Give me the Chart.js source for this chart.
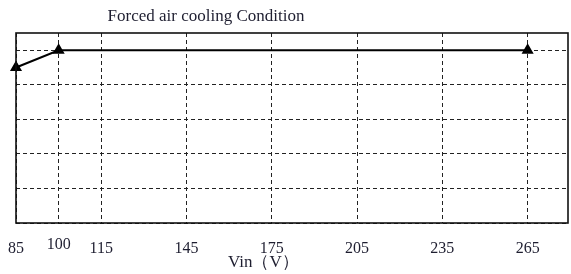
<!DOCTYPE html>
<html>
<head>
<meta charset="utf-8">
<script src="https://cdn.jsdelivr.net/npm/chart.js@4/dist/chart.umd.min.js"></script>
<style>
  html, body { margin: 0; padding: 0; background: #fff; }
  #wrap { width: 571px; height: 274px; }
</style>
</head>
<body>
<div id="wrap"><canvas id="c" width="571" height="274"></canvas></div>
<script>
// Datos
const vinValues = [85, 100, 265];
const curveValues = [4.5, 5, 5];
const xTickValues = [85, 100, 115, 145, 175, 205, 235, 265];
const yGridValues = [0, 1, 2, 3, 4, 5];
const chartTitle = 'Forced air cooling Condition';
const xAxisTitle = 'Vin（V）';

const serif = "'Liberation Serif', 'DejaVu Serif', serif";

// Marco, titulo y etiquetas dibujadas a mano
const decorPlugin = {
    id: 'decor',
    afterDraw(chart) {
        const ctx = chart.ctx;
        const area = chart.chartArea;
        const xs = chart.scales.x;
        ctx.save();
        ctx.strokeStyle = '#111';
        ctx.lineWidth = 1.6;
        ctx.strokeRect(area.left, area.top, area.right - area.left, area.bottom - area.top);

        ctx.fillStyle = '#1e1e30';
        ctx.font = '17px ' + serif;
        ctx.textAlign = 'center';
        ctx.textBaseline = 'alphabetic';
        ctx.fillText(chartTitle, 206, 21);

        ctx.font = '16px ' + serif;
        xTickValues.forEach(v => {
            const px = xs.getPixelForValue(v);
            const y = v === 100 ? 249 : 253;
            ctx.fillText(String(v), px, y);
        });
        ctx.textAlign = 'left';
        ctx.font = '17px ' + serif;
        ctx.fillText(xAxisTitle, 228, 267);
        ctx.restore();
    }
};

const ctx = document.getElementById('c').getContext('2d');
new Chart(ctx, {
    type: 'line',
    data: {
        datasets: [{
            data: vinValues.map((v, i) => ({ x: v, y: curveValues[i] })),
            borderColor: '#000',
            backgroundColor: '#000',
            borderWidth: 2,
            pointStyle: 'triangle',
            pointRadius: 5,
            pointBackgroundColor: '#000',
            pointBorderColor: '#000',
            tension: 0,
            clip: false
        }]
    },
    options: {
        responsive: false,
        animation: false,
        layout: { autoPadding: false, padding: { left: 16, right: 3, top: 33, bottom: 51 } },
        plugins: {
            legend: { display: false },
            tooltip: { enabled: false }
        },
        scales: {
            x: {
                type: 'linear',
                min: 85,
                max: 279.2,
                afterBuildTicks: axis => { axis.ticks = xTickValues.map(v => ({ value: v })); },
                ticks: { display: false },
                grid: { color: '#222', lineWidth: 1, drawTicks: false },
                border: { display: false, dash: [4, 3] }
            },
            y: {
                min: 0,
                max: 5.5,
                afterBuildTicks: axis => { axis.ticks = yGridValues.map(v => ({ value: v })); },
                ticks: { display: false },
                grid: { color: '#222', lineWidth: 1, drawTicks: false },
                border: { display: false, dash: [4, 3] }
            }
        }
    },
    plugins: [decorPlugin]
});
</script>
</body>
</html>
